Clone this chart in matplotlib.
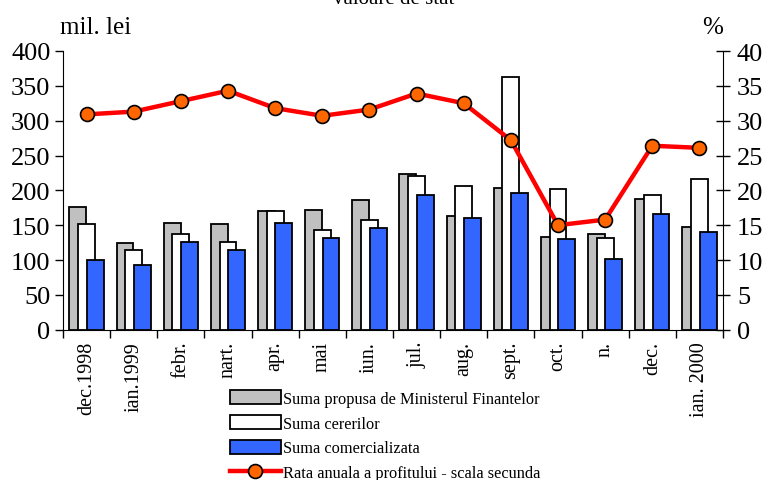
import matplotlib
matplotlib.use("Agg")
import matplotlib.pyplot as plt
from matplotlib.patches import Patch
from matplotlib.lines import Line2D
import numpy as np

categories = ["dec.1998", "ian.1999", "febr.", "nart.", "apr.", "mai", "iun.",
              "jul.", "aug.", "sept.", "oct.", "n.", "dec.", "ian. 2000"]
suma_propusa = [176, 125, 153, 152, 171, 172, 186, 223, 163, 204, 133, 138, 187, 147]
suma_cererilor = [151, 115, 138, 126, 170, 143, 158, 221, 206, 362, 202, 131, 194, 216]
suma_comercializata = [100, 93, 126, 114, 153, 132, 146, 193, 160, 196, 130, 101, 166, 140]
rata_profit = [30.9, 31.3, 32.8, 34.3, 31.8, 30.7, 31.6, 33.9, 32.5, 27.2, 15.0, 15.8, 26.4, 26.1]

labels_legend = ["Suma propusa de Ministerul Finantelor", "Suma cererilor",
                 "Suma comercializata", "Rata anuala a profitului - scala secunda"]

plt.rcParams['font.family'] = ['Liberation Serif', 'DejaVu Serif']

fig = plt.figure(figsize=(7.69, 4.81), dpi=100)
ax = fig.add_axes([63/769, 1 - 330.7/481, (723-63)/769, (330.7-52)/481])
x = np.arange(len(categories))
w = 0.36
off = 0.185
ax.bar(x - off, suma_propusa, w, color="#C0C0C0", edgecolor="black", linewidth=1.3, zorder=2)
ax.bar(x, suma_cererilor, w, color="white", edgecolor="black", linewidth=1.3, zorder=3)
ax.bar(x + off, suma_comercializata, w, color="#3366FF", edgecolor="black", linewidth=1.3, zorder=4)

ax.set_xlim(-0.5, len(categories) - 0.5)
ax.set_ylim(0, 400)
ax.set_yticks(np.arange(0, 401, 50))
ax.tick_params(axis='y', labelsize=19, length=6, width=1, direction='out', pad=3)
ax.set_xticks(x)
ax.set_xticklabels(categories, rotation=90, fontsize=14.5, va='top')
ax.set_xticks(np.arange(-0.5, len(categories), 1), minor=True)
ax.tick_params(axis='x', which='major', length=0, pad=8)
ax.tick_params(axis='x', which='minor', length=6, width=1, direction='out')
ax.spines['top'].set_visible(False)
ax.spines['right'].set_visible(False)

ax2 = ax.twinx()
ax2.plot(x, rata_profit, color="#FF0000", linewidth=3.2, marker='o', markersize=10,
         markerfacecolor="#FF6600", markeredgecolor="black", markeredgewidth=1.2, zorder=5)
ax2.set_ylim(0, 40)
ax2.set_yticks(np.arange(0, 41, 5))
ax2.tick_params(axis='y', labelsize=19, length=10, width=1, direction='inout', pad=5)
ax2.spines['top'].set_visible(False)
ax2.spines['left'].set_visible(False)
ax2.spines['bottom'].set_visible(False)

fig.text(60/769, 1 - 28/481, "mil. lei", fontsize=18, va='center', ha='left')
fig.text(713/769, 1 - 28/481, "%", fontsize=18, va='center', ha='center')
fig.text(394/769, 1.0, "valoare de stat", fontsize=15, va='center', ha='center')

handles = [
    Patch(facecolor="#C0C0C0", edgecolor="black", linewidth=1.3),
    Patch(facecolor="white", edgecolor="black", linewidth=1.3),
    Patch(facecolor="#3366FF", edgecolor="black", linewidth=1.3),
    Line2D([0], [0], color="#FF0000", linewidth=3.2, marker='o', markersize=10,
           markerfacecolor="#FF6600", markeredgecolor="black", markeredgewidth=1.2),
]
fig.legend(handles, labels_legend, loc='upper left', bbox_to_anchor=(230/769, 1 - 391/481),
           frameon=False, fontsize=11.8, handlelength=3.1, handleheight=0.95,
           handletextpad=0.15, labelspacing=0.5, borderpad=0, borderaxespad=0)

fig.savefig("out.png", dpi=100)
